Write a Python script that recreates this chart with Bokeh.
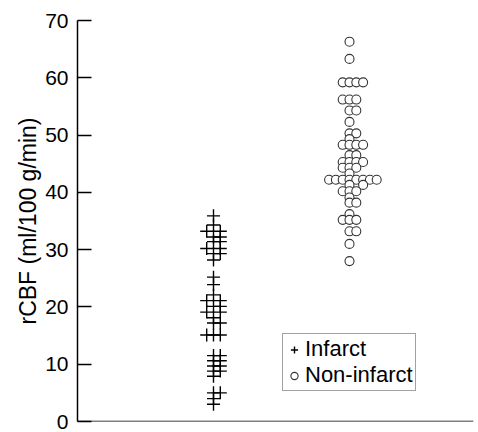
from bokeh.plotting import figure
from bokeh.models import ColumnDataSource, Legend, LegendItem, FixedTicker, Range1d, Span
from bokeh.embed import file_html
from bokeh.resources import INLINE

# ---- data ----
groups = ["Infarct", "Non-infarct"]
group_pos = [1, 2]

infarct_values = [35.9, 34.3, 33.2, 33.2, 32.2, 32.2, 31.4, 31.4, 30.2, 30.2,
                  29.3, 29.3, 28.2, 25.2, 23.9, 22.1, 21.1, 21.1, 20.1, 20.1,
                  19.1, 19.1, 18.1, 17.2, 17.2, 15.1, 15.1, 15.1, 11.5, 11.5,
                  10.6, 10.6, 9.7, 9.7, 8.8, 8.8, 7.9, 5.0, 5.0, 4.0, 3.0]
infarct_slots = [0, 0, -1, 1, 0, 1, 0, 1, -1, 1,
                 0, 1, 0, 0, 0, 0, -1, 1, 0, 1,
                 -1, 1, 0, 0, 1, -1, 0, 1, 0, 1,
                 0, 1, 0, 1, 0, 1, 0, 0, 1, 0, 0]

noninfarct_values = [66.3, 63.3,
                     59.2, 59.2, 59.2, 59.2,
                     56.2, 56.2, 56.2,
                     54.3, 54.3,
                     52.3,
                     50.3, 50.3,
                     49.3,
                     48.3, 48.3, 48.3, 48.3,
                     46.5, 46.5,
                     45.3, 45.3, 45.3, 45.3,
                     44.3, 44.3, 44.3,
                     43.3,
                     42.2, 42.2, 42.2, 42.2, 42.2, 42.2, 42.2, 42.2,
                     41.3, 41.3,
                     40.2, 40.2, 40.2,
                     39.1,
                     38.2, 38.2,
                     36.2,
                     35.2, 35.2, 35.2,
                     33.2, 33.2,
                     31.0,
                     28.0]
noninfarct_slots = [0, 0,
                    -1, 0, 1, 2,
                    -1, 0, 1,
                    0, 1,
                    0,
                    0, 1,
                    0,
                    -1, 0, 1, 2,
                    0, 1,
                    -1, 0, 1, 2,
                    -1, 0, 1,
                    0,
                    -3, -2, -1, 0, 1, 2, 3, 4,
                    0, 2,
                    -1, 0, 1,
                    0,
                    0, 1,
                    0,
                    -1, 0, 1,
                    0, 1,
                    0,
                    0]

y_ticks = [0, 10, 20, 30, 40, 50, 60, 70]
y_label = "rCBF (ml/100 g/min)"

slot_w = 0.05
inf_src = ColumnDataSource(dict(x=[group_pos[0] + s * slot_w for s in infarct_slots], y=infarct_values))
non_src = ColumnDataSource(dict(x=[group_pos[1] + s * slot_w for s in noninfarct_slots], y=noninfarct_values))

FONT = "Liberation Sans"

# frame: left 77, right 473, top 20, bottom 421
p = figure(width=475, height=432, output_backend="svg", toolbar_location=None,
           x_range=Range1d(0, 396 / 136), y_range=Range1d(0, 70),
           min_border_top=20, min_border_right=2, min_border_bottom=11, min_border_left=77)
p.outline_line_color = None
p.grid.visible = False
p.background_fill_color = "white"
p.border_fill_color = "white"

r_inf = p.scatter("x", "y", source=inf_src, marker="cross", size=13,
                  line_color="black", line_width=1.4)
r_non = p.scatter("x", "y", source=non_src, marker="circle", size=9,
                  line_color="#333333", line_width=1.1, fill_color="white")

# y axis
p.yaxis.ticker = FixedTicker(ticks=y_ticks)
p.yaxis.major_tick_in = 14
p.yaxis.major_tick_out = 0
p.yaxis.minor_tick_in = 0
p.yaxis.minor_tick_out = 0
p.yaxis.axis_line_width = 1.5
p.yaxis.major_tick_line_width = 1.5
p.yaxis.major_label_text_font = FONT
p.yaxis.major_label_text_font_size = "21px"
p.yaxis.major_label_text_color = "black"
p.yaxis.major_label_standoff = 9
p.yaxis.axis_label = y_label
p.yaxis.axis_label_text_font = FONT
p.yaxis.axis_label_text_font_size = "23px"
p.yaxis.axis_label_text_font_style = "normal"
p.yaxis.axis_label_text_color = "black"
p.yaxis.axis_label_standoff = 1

# x axis: bare baseline only
p.xaxis.visible = False
p.add_layout(Span(location=0, dimension="width", line_color="black", line_width=1.5))

legend = Legend(items=[LegendItem(label=groups[0], renderers=[r_inf]),
                       LegendItem(label=groups[1], renderers=[r_non])],
                location=(205, 30))
legend.label_text_font = FONT
legend.label_text_font_size = "22px"
legend.label_text_color = "black"
legend.border_line_color = "#444444"
legend.border_line_width = 1.5
legend.padding = 2
legend.spacing = 0
legend.margin = 0
legend.glyph_width = 18
legend.glyph_height = 25
legend.label_standoff = 2
legend.label_height = 25
legend.background_fill_alpha = 1
p.add_layout(legend)

open("out.html", "w").write(file_html(p, INLINE))
